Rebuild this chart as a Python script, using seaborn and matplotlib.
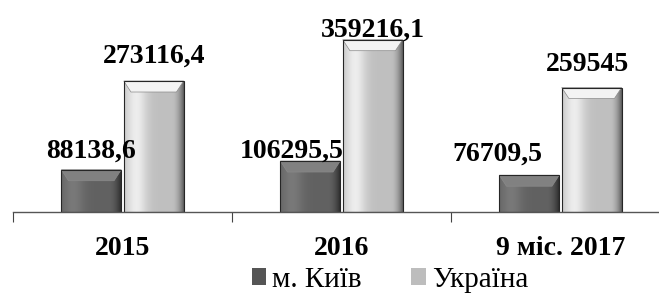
import numpy as np
import pandas as pd
import matplotlib
matplotlib.use('Agg')
import matplotlib.pyplot as plt
from matplotlib.patches import Polygon
from matplotlib.colors import to_rgb
import seaborn as sns

# data
periods = ['2015', '2016', '9 міс. 2017']
series = ['м. Київ', 'Україна']
kyiv = [88138.6, 106295.5, 76709.5]
ukraine = [273116.4, 359216.1, 259545]
kyiv_labels = ['88138,6', '106295,5', '76709,5']
ukraine_labels = ['273116,4', '359216,1', '259545']

df = pd.DataFrame({
    'period': periods * 2,
    'value': kyiv + ukraine,
    'series': [series[0]] * len(periods) + [series[1]] * len(periods),
})

colors = ['#6a6a6a', '#d0d0d0']

sns.set_theme(style='white')
plt.rcParams['font.family'] = ['Liberation Serif', 'DejaVu Serif']
plt.rcParams['text.color'] = 'black'

fig = plt.figure(figsize=(6.59, 2.94), dpi=100)
ax = fig.add_axes([13 / 659, 82 / 294, 1 - 13 / 659, 212 / 294])

sns.barplot(data=df, x='period', y='value', hue='series', order=periods,
            hue_order=series, palette=colors, width=0.57, gap=0.04,
            saturation=1, edgecolor='#262626', linewidth=0.8, ax=ax)

xlim = (-0.5, 2.45)
ylim = (0, 442000)
px = ylim[1] / 212  # data units per pixel

# shading to mimic the bevelled bars
prof = np.linspace(0, 1, 60)
shade = 0.92 + 0.22 * np.exp(-((prof - 0.2) / 0.18) ** 2) - 0.45 * np.clip((prof - 0.8) / 0.2, 0, 1) ** 2
for bars, col in zip(ax.containers, colors):
    rgb = np.array(to_rgb(col))
    img = np.clip(shade[None, :, None] * rgb[None, None, :], 0, 1)
    for bar in bars:
        x0, y0 = bar.get_x(), bar.get_y()
        w, h = bar.get_width(), bar.get_height()
        im = ax.imshow(img, extent=[x0, x0 + w, y0, y0 + h], aspect='auto',
                       zorder=bar.get_zorder() + 0.1)
        im.set_clip_path(bar)
        dy = 11 * px
        dx = w * 0.12
        top = y0 + h
        bevel = Polygon([(x0, top), (x0 + w, top), (x0 + w - dx, top - dy), (x0 + dx, top - dy)],
                        closed=True, facecolor=np.clip(rgb * 1.12 + 0.04, 0, 1),
                        edgecolor='#8a8a8a', linewidth=0.5, zorder=bar.get_zorder() + 0.2)
        ax.add_patch(bevel)
        bar.set_zorder(bar.get_zorder() + 0.3)
        bar.set_facecolor('none')

# value labels (offsets in pixels: dx, dy above bar top)
kyiv_off = [(0, 12), (-19, 3), (-32, 15)]
ukr_off = [(0, 18), (0, 3), (-4, 17)]
for bars, labels, offs in zip(ax.containers, [kyiv_labels, ukraine_labels], [kyiv_off, ukr_off]):
    for bar, lab, (ox, oy) in zip(bars, labels, offs):
        ax.annotate(lab, (bar.get_x() + bar.get_width() / 2, bar.get_height()),
                    xytext=(ox, oy), textcoords='offset pixels', ha='center', va='baseline',
                    fontsize=20, fontweight='bold', color='black', annotation_clip=False)

ax.set_xlim(*xlim)
ax.set_ylim(*ylim)
ax.set_xlabel('')
ax.set_ylabel('')
ax.set_yticks([])
ax.set_xticks(range(len(periods)))
ax.set_xticklabels(periods, fontsize=20, fontweight='bold')
ax.set_xticks([i - 0.5 for i in range(len(periods))], minor=True)
ax.tick_params(axis='x', which='major', length=0, pad=17, colors='black')
ax.tick_params(axis='x', which='minor', bottom=True, length=7, width=0.8, color='#444444')
for s in ['left', 'top', 'right']:
    ax.spines[s].set_visible(False)
ax.spines['bottom'].set_color('#555555')
ax.spines['bottom'].set_linewidth(1.0)

handles, _ = ax.get_legend_handles_labels()
ax.legend_.remove()
for hnd, col in zip(handles, ['#555555', '#bdbdbd']):
    hnd.set_facecolor(col)
    hnd.set_edgecolor('none')
leg = fig.legend(handles, series, loc='center', bbox_to_anchor=(390 / 659, 1 - 280 / 294),
                 ncol=2, frameon=False, fontsize=21, handlelength=0.5, handleheight=0.5,
                 handletextpad=0.2, columnspacing=1.7, borderaxespad=0)
for t in leg.get_texts():
    t.set_color('black')

fig.savefig('out.png', dpi=100)
